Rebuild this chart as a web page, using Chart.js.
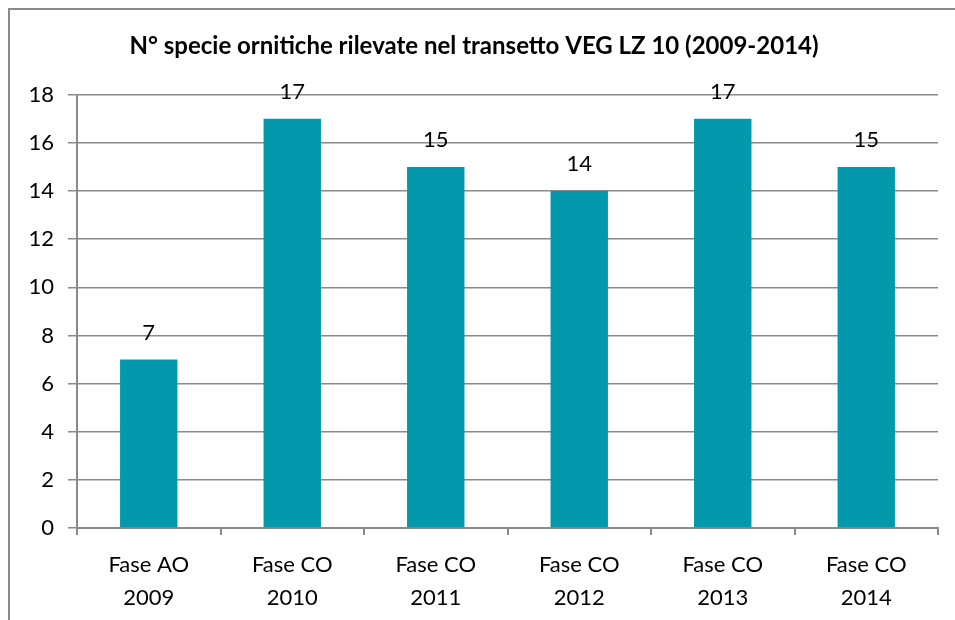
<!DOCTYPE html>
<html>
<head>
<meta charset="utf-8">
<script src="https://cdn.jsdelivr.net/npm/chart.js@4"></script>
<style>
    body { margin: 0; background: #fff; }
    #wrap { position: relative; width: 955px; height: 620px; }
    #frame {
        position: absolute; left: 8px; top: 8px; right: -10px; bottom: -10px;
        border-left: 2px solid #8a8a8a; border-top: 2px solid #8a8a8a;
        pointer-events: none;
    }
</style>
</head>
<body>
<div id="wrap">
    <canvas id="birdsChart" width="955" height="620"></canvas>
    <div id="frame"></div>
</div>
<script>
// --- Data ---
const categories = [
    ['Fase AO', '2009'],
    ['Fase CO', '2010'],
    ['Fase CO', '2011'],
    ['Fase CO', '2012'],
    ['Fase CO', '2013'],
    ['Fase CO', '2014']
];
const speciesCount = [7, 17, 15, 14, 17, 15];
const yTicks = [0, 2, 4, 6, 8, 10, 12, 14, 16, 18];

const chartTitle = 'N° specie ornitiche rilevate nel transetto VEG LZ 10 (2009-2014)';
const barColor = '#0498ac';
const lineColor = '#8a8a8a';
const fontFamily = 'Lato, "Open Sans", sans-serif';

// Value labels above each bar
const barValueLabels = {
    id: 'barValueLabels',
    afterDatasetsDraw(chart) {
        const ctx = chart.ctx;
        const meta = chart.getDatasetMeta(0);
        ctx.save();
        ctx.font = '22px ' + fontFamily;
        ctx.fillStyle = '#000';
        ctx.textAlign = 'center';
        ctx.textBaseline = 'middle';
        meta.data.forEach((bar, i) => {
            ctx.fillText(speciesCount[i], bar.x, bar.y - 27);
        });
        ctx.restore();
    }
};

new Chart(document.getElementById('birdsChart'), {
    type: 'bar',
    data: {
        labels: categories,
        datasets: [{
            data: speciesCount,
            backgroundColor: barColor,
            categoryPercentage: 0.4,
            barPercentage: 1.0
        }]
    },
    options: {
        responsive: false,
        animation: false,
        layout: { padding: { left: 10, right: 17, top: 0, bottom: 0 } },
        plugins: {
            legend: { display: false },
            tooltip: { enabled: false },
            title: {
                display: true,
                text: chartTitle,
                color: '#000',
                font: { family: fontFamily, size: 24, weight: 'bold' },
                padding: { top: 32, bottom: 34 }
            }
        },
        scales: {
            x: {
                afterFit: (scale) => { scale.height = 92; },
                grid: {
                    offset: true,
                    drawOnChartArea: false,
                    drawTicks: true,
                    tickLength: 7,
                    color: lineColor,
                    lineWidth: 2
                },
                border: { display: true, color: lineColor, width: 2 },
                ticks: {
                    color: '#000',
                    font: { family: fontFamily, size: 22, lineHeight: 1.5 },
                    padding: 13,
                    maxRotation: 0
                }
            },
            y: {
                min: 0,
                max: 18,
                afterFit: (scale) => { scale.width = 67; },
                afterBuildTicks: (scale) => { scale.ticks = yTicks.map(v => ({ value: v })); },
                grid: {
                    color: lineColor,
                    lineWidth: 1.5,
                    tickLength: 9
                },
                border: { display: true, color: lineColor, width: 2 },
                ticks: {
                    color: '#000',
                    font: { family: fontFamily, size: 22 },
                    padding: 14
                }
            }
        }
    },
    plugins: [barValueLabels]
});
</script>
</body>
</html>
